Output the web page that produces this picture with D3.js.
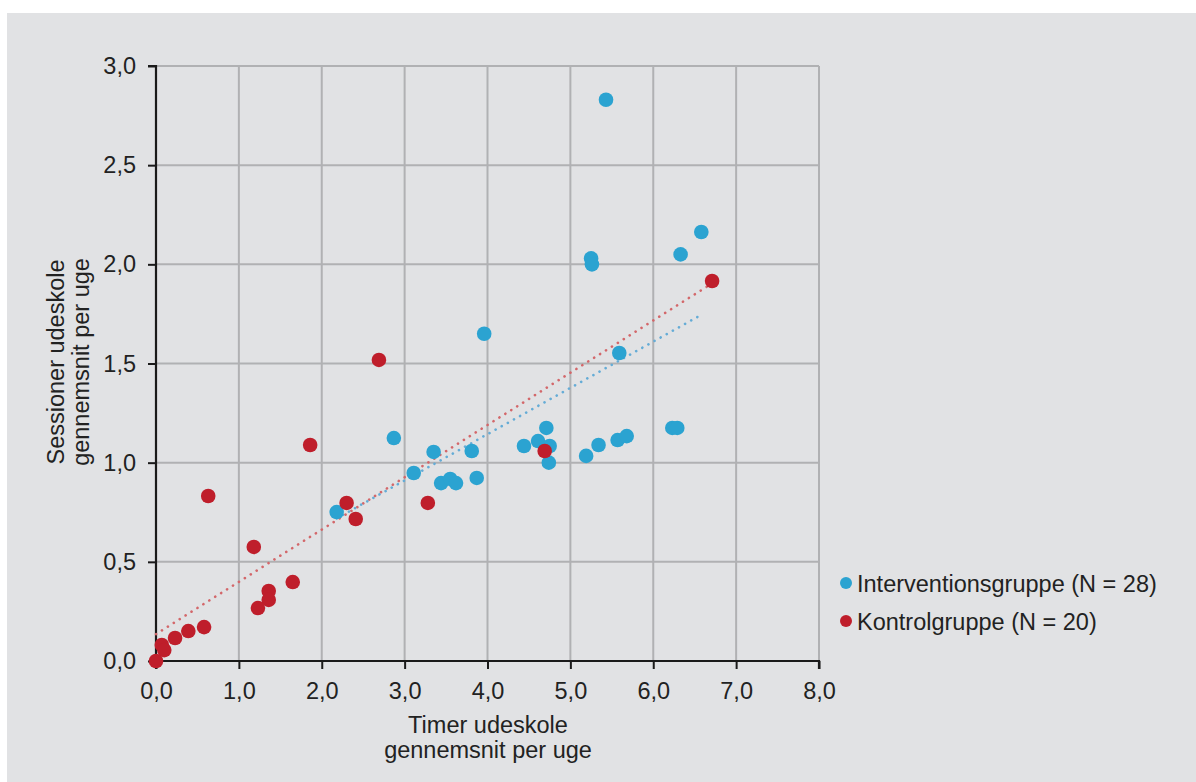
<!DOCTYPE html>
<html>
<head>
<meta charset="utf-8">
<script src="https://cdn.jsdelivr.net/npm/d3@7"></script>
<style>
  body { margin: 0; background: #fff; }
  text { font-family: "Liberation Sans", Arial, sans-serif; fill: #222; }
</style>
</head>
<body>
<div id="chart"></div>
<script>
// data
var interventionX = [5.43, 6.58, 6.33, 5.25, 5.26, 5.59, 3.96, 2.87, 3.35, 3.81, 3.11, 3.44, 3.55, 3.62,
  3.87, 2.18, 4.44, 4.61, 4.71, 4.75, 4.74, 5.19, 5.34, 5.57, 5.68, 6.23, 6.29];
var interventionY = [2.83, 2.163, 2.05, 2.03, 2.00, 1.553, 1.65, 1.124, 1.054, 1.059, 0.948, 0.897, 0.918, 0.897,
  0.923, 0.751, 1.084, 1.109, 1.175, 1.084, 1.0, 1.034, 1.089, 1.114, 1.134, 1.175, 1.175];
var kontrolX = [6.71, 2.69, 1.86, 0.63, 4.69, 2.30, 2.41, 3.28, 1.18, 1.65, 1.36, 1.36, 1.23, 0.58,
  0.39, 0.23, 0.07, 0.10, 0];
var kontrolY = [1.916, 1.518, 1.089, 0.832, 1.059, 0.797, 0.716, 0.797, 0.575, 0.398, 0.353, 0.308, 0.267, 0.171,
  0.151, 0.116, 0.081, 0.055, 0];
var xTicks = [0, 1, 2, 3, 4, 5, 6, 7, 8];
var yTicks = [0, 0.5, 1, 1.5, 2, 2.5, 3];
var seriesNames = ["Interventionsgruppe (N = 28)", "Kontrolgruppe (N = 20)"];

var W = 1196, H = 782;
var margin = {left: 156, top: 66, right: 377, bottom: 121};
var width = W - margin.left - margin.right;
var height = H - margin.top - margin.bottom;
var fs = "23.5px";

var blue = "#2ba3d1", red = "#bf1e2b";
var blueLine = "#65acd6", redLine = "#d3676a";

var svg = d3.select("#chart").append("svg")
  .attr("width", W)
  .attr("height", H);

svg.append("rect")
  .attr("x", 7).attr("y", 13)
  .attr("width", W - 7).attr("height", H - 13)
  .attr("fill", "#e1e2e4");

var g = svg.append("g")
  .attr("transform", "translate(" + margin.left + "," + margin.top + ")");

var x = d3.scaleLinear().domain([0, 8]).range([0, width]);
var y = d3.scaleLinear().domain([0, 3]).range([height, 0]);

var fmt = function (d) { return d3.format(".1f")(d).replace(".", ","); };

// grid
g.selectAll(".vgrid").data(xTicks.slice(1)).enter().append("line")
  .attr("x1", x).attr("x2", x).attr("y1", 0).attr("y2", height)
  .attr("stroke", "#b0b1b3").attr("stroke-width", 2);
g.selectAll(".hgrid").data(yTicks.slice(1)).enter().append("line")
  .attr("x1", 0).attr("x2", width).attr("y1", y).attr("y2", y)
  .attr("stroke", "#b0b1b3").attr("stroke-width", 2);

// axes
var xAxis = g.append("g")
  .attr("transform", "translate(0," + height + ")")
  .call(d3.axisBottom(x).tickValues(xTicks).tickFormat(fmt).tickSize(8).tickPadding(13));
var yAxis = g.append("g")
  .call(d3.axisLeft(y).tickValues(yTicks).tickFormat(fmt).tickSize(8).tickPadding(12));
[xAxis, yAxis].forEach(function (a) {
  a.select(".domain").attr("stroke", "#1a1a1a").attr("stroke-width", 2.2);
  a.selectAll(".tick line").attr("stroke", "#1a1a1a").attr("stroke-width", 2);
  a.selectAll(".tick text").style("font-size", fs).attr("fill", "#222")
    .style("font-family", "'Liberation Sans', Arial, sans-serif");
});
xAxis.select(".domain").attr("d", "M0,8V0H" + width + "V8");
yAxis.select(".domain").attr("d", "M-8,0H0V" + height);

// trendlines (least squares over each group)
function fit(xs, ys) {
  var mx = d3.mean(xs), my = d3.mean(ys);
  var sxy = d3.sum(xs, function (v, i) { return (v - mx) * (ys[i] - my); });
  var sxx = d3.sum(xs, function (v) { return (v - mx) * (v - mx); });
  var b = sxy / sxx, a = my - b * mx;
  var ext = d3.extent(xs);
  return [[ext[0], a + b * ext[0]], [ext[1], a + b * ext[1]]];
}
var line = d3.line().x(function (d) { return x(d[0]); }).y(function (d) { return y(d[1]); });

g.append("path").datum(fit(kontrolX, kontrolY))
  .attr("d", line).attr("fill", "none")
  .attr("stroke", redLine).attr("stroke-width", 2.6)
  .attr("stroke-linecap", "round").attr("stroke-dasharray", "0.1 6.9");
g.append("path").datum(fit(interventionX, interventionY))
  .attr("d", line).attr("fill", "none")
  .attr("stroke", blueLine).attr("stroke-width", 2.6)
  .attr("stroke-linecap", "round").attr("stroke-dasharray", "0.1 6.9");

// points
g.selectAll(".blue").data(interventionX).enter().append("circle")
  .attr("cx", function (d) { return x(d); })
  .attr("cy", function (d, i) { return y(interventionY[i]); })
  .attr("r", 7.3).attr("fill", blue);
g.selectAll(".red").data(kontrolX).enter().append("circle")
  .attr("cx", function (d) { return x(d); })
  .attr("cy", function (d, i) { return y(kontrolY[i]); })
  .attr("r", 7.3).attr("fill", red);

// axis titles
var xt = svg.append("text").attr("text-anchor", "middle").style("font-size", fs);
xt.append("tspan").attr("x", 488).attr("y", 733).text("Timer udeskole");
xt.append("tspan").attr("x", 488).attr("y", 758).text("gennemsnit per uge");

var yt = svg.append("text").attr("text-anchor", "middle").style("font-size", fs)
  .attr("transform", "translate(0,362) rotate(-90)");
yt.append("tspan").attr("x", 0).attr("y", 64).text("Sessioner udeskole");
yt.append("tspan").attr("x", 0).attr("y", 89).text("gennemsnit per uge");

// legend
var leg = svg.append("g").attr("transform", "translate(846,583)");
[blue, red].forEach(function (c, i) {
  leg.append("circle").attr("cx", 0).attr("cy", i * 38).attr("r", 6).attr("fill", c);
  leg.append("text").attr("x", 11).attr("y", i * 38 + 8.5).style("font-size", fs).text(seriesNames[i]);
});
</script>
</body>
</html>
